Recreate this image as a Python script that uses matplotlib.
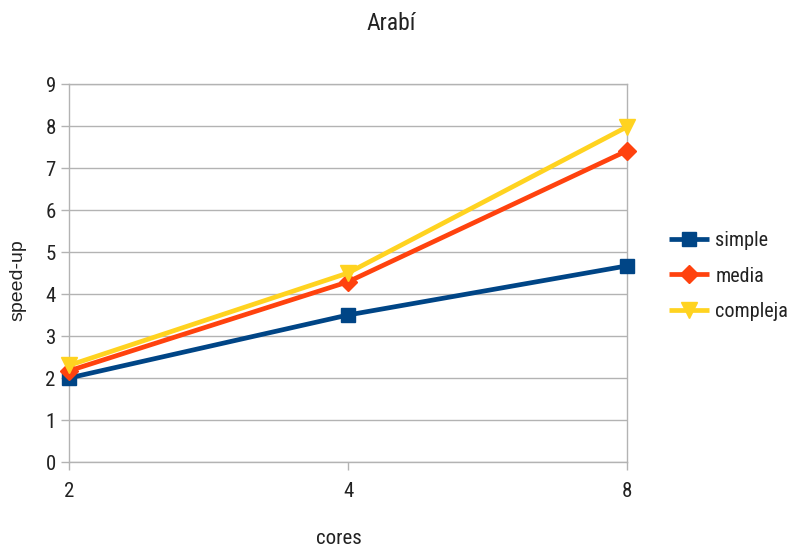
import matplotlib
matplotlib.use("Agg")
import matplotlib.pyplot as plt

COND = "Roboto Condensed"
TEXT = "#222222"
GRID = "#b3b3b3"

cores = ["2", "4", "8"]
simple = [2.0, 3.5, 4.67]
media = [2.17, 4.29, 7.41]
compleja = [2.3, 4.5, 7.98]
series = [("simple", simple, "#004586", "s", 10),
          ("media", media, "#ff420e", "D", 9),
          ("compleja", compleja, "#ffd320", "v", 11)]

fig = plt.figure(figsize=(7.94, 5.5), dpi=100)
ax = fig.add_axes([69 / 794, 88 / 550, 558 / 794, 378 / 550])

xs = list(range(len(cores)))
for name, vals, color, mk, ms in series:
    ax.plot(xs, vals, color=color, lw=3.4, marker=mk, ms=ms,
            label=name, solid_capstyle="butt", clip_on=False, zorder=3)

ax.set_xlim(0, len(cores) - 1)
ax.set_ylim(0, 9)
ax.set_yticks(range(0, 10))
ax.set_xticks(xs)
ax.set_xticklabels(cores)
ax.yaxis.grid(True, color=GRID, lw=1)
ax.set_axisbelow(True)
for side in ["left", "right", "bottom", "top"]:
    ax.spines[side].set_color(GRID)
    ax.spines[side].set_linewidth(1)
    ax.spines[side].set_zorder(1)
ax.tick_params(axis="both", color=GRID, length=5.5, width=1,
               labelsize=15, labelcolor=TEXT)
ax.tick_params(axis="x", pad=9)
ax.tick_params(axis="y", pad=4)
for lbl in ax.get_xticklabels() + ax.get_yticklabels():
    lbl.set_family(COND)

ax.set_xlabel("cores", fontsize=15, family=COND, color=TEXT, va="center")
ax.xaxis.set_label_coords((339 - 69) / 558, (462 - 539) / 378)
ax.set_ylabel("speed-up", fontsize=14, family="Liberation Sans", color=TEXT,
              va="center", ha="center")
ax.yaxis.set_label_coords((18 - 69) / 558, (462 - 280) / 378)

fig.text(391 / 794, 1 - 24 / 550, "Arabí", ha="center", va="center",
         fontsize=17, family=COND, color=TEXT)

fig.legend(loc="center left", bbox_to_anchor=(651 / 794, 1 - 276 / 550),
           frameon=False, prop={"family": COND, "size": 14.5},
           handlelength=2.0, handletextpad=0.3, labelspacing=0.8,
           labelcolor=TEXT)

fig.savefig("out.png", dpi=100)
